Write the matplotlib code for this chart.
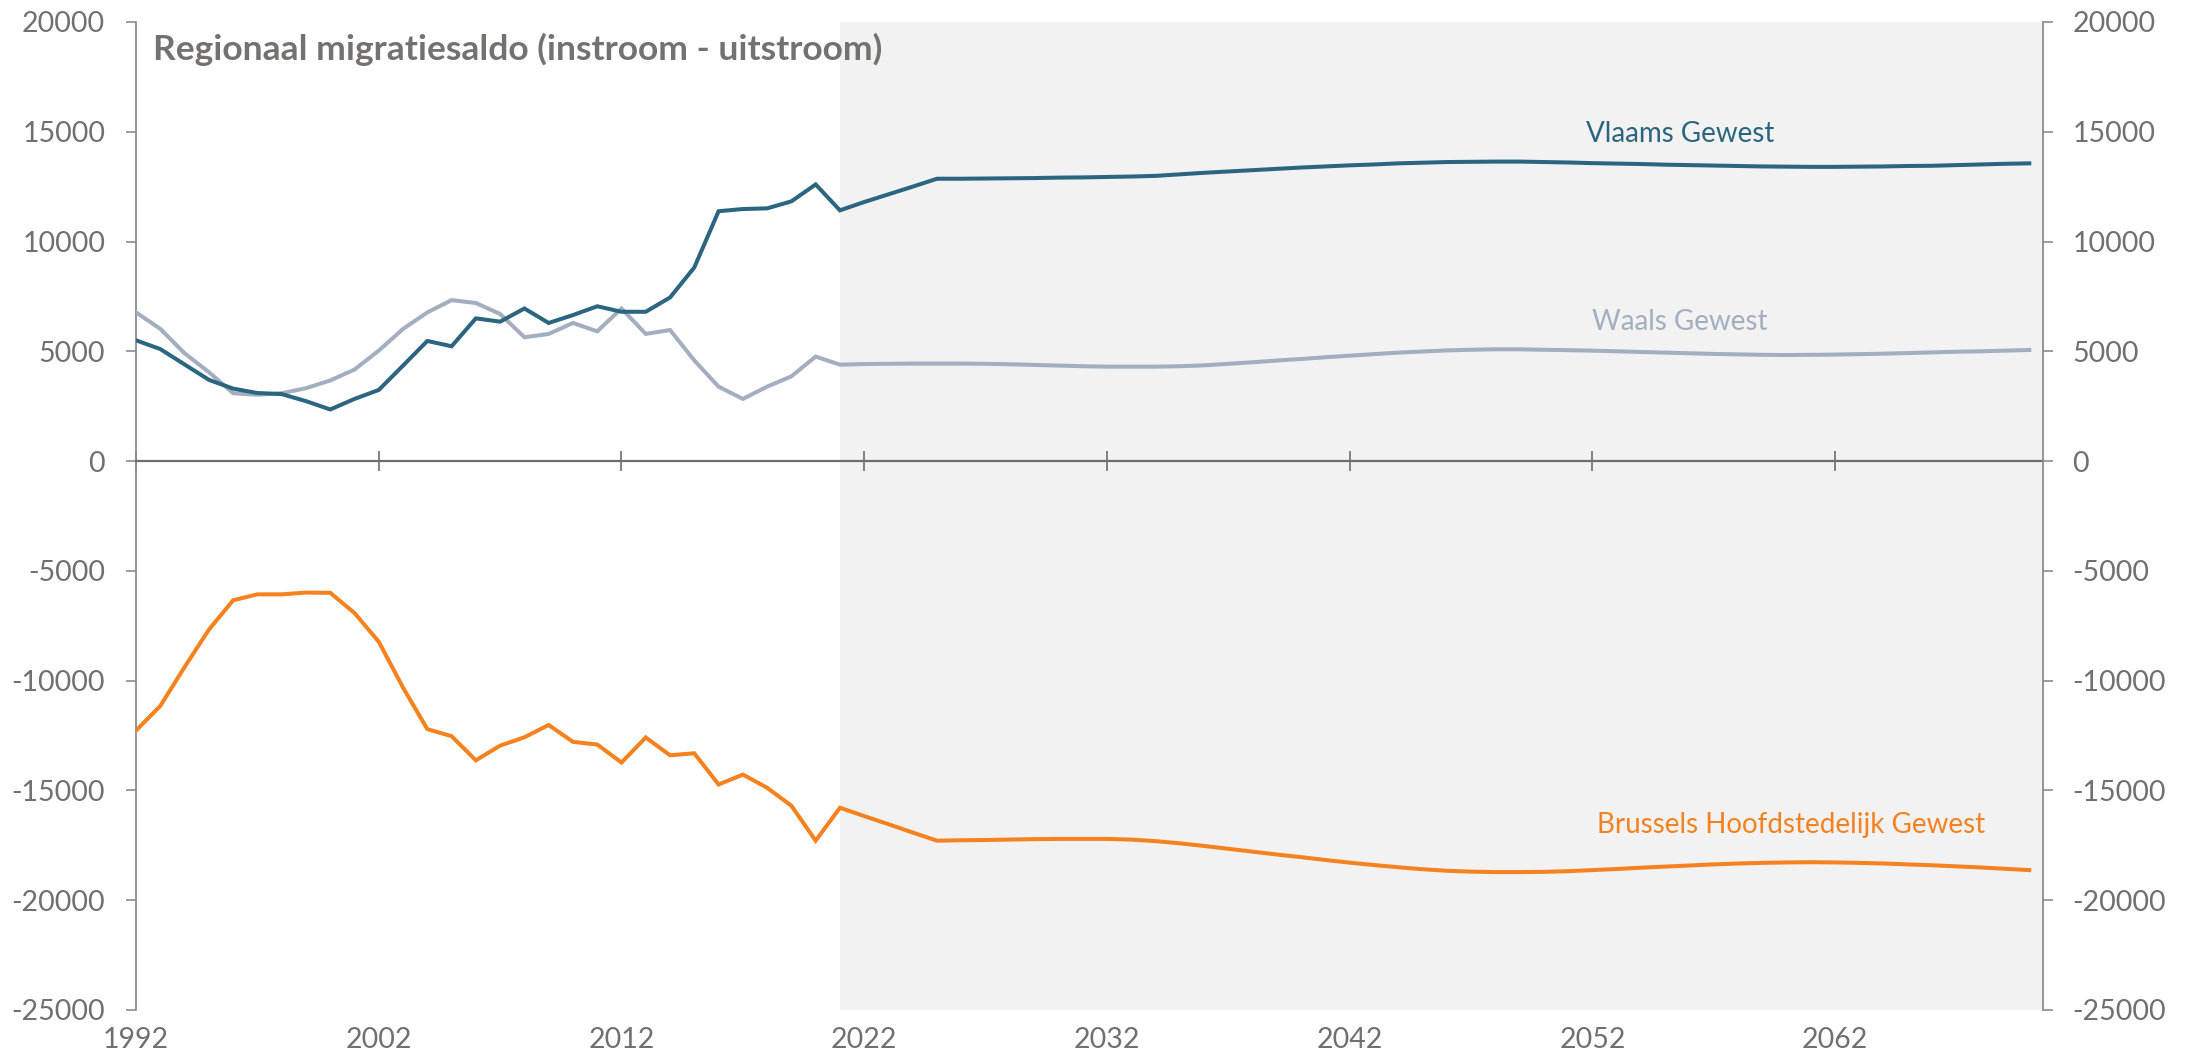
import matplotlib
matplotlib.use("Agg")
import matplotlib.pyplot as plt
import numpy as np

plt.rcParams['font.family'] = ['Lato', 'DejaVu Sans']

years = list(range(1992, 2071))

vlaams = [5500, 5100, 4400, 3700, 3300, 3100, 3050, 2730, 2350, 2830,
          3240, 4350, 5470, 5230, 6500, 6350, 6950, 6290, 6650, 7050,
          6800, 6800, 7450, 8820, 11380, 11480, 11510, 11830, 12600, 11420,
          11800, 12150, 12500, 12860, 12860, 12870, 12880, 12890, 12910, 12920,
          12940, 12960, 12990, 13060, 13130, 13190, 13250, 13310, 13370, 13420,
          13470, 13510, 13560, 13590, 13620, 13630, 13640, 13640, 13620, 13600,
          13570, 13550, 13530, 13500, 13480, 13460, 13440, 13420, 13410, 13400,
          13400, 13410, 13420, 13440, 13450, 13480, 13510, 13540, 13560]

waals = [6770, 6020, 4910, 4050, 3090, 3020, 3090, 3320, 3670, 4170,
         5030, 6020, 6770, 7330, 7200, 6700, 5640, 5790, 6290, 5910,
         6950, 5790, 5970, 4580, 3390, 2830, 3390, 3860, 4760, 4390,
         4420, 4430, 4440, 4440, 4440, 4430, 4410, 4380, 4350, 4320,
         4300, 4300, 4300, 4320, 4360, 4430, 4500, 4580, 4650, 4730,
         4800, 4870, 4940, 4990, 5040, 5070, 5090, 5090, 5070, 5050,
         5030, 5000, 4970, 4940, 4910, 4880, 4860, 4840, 4830, 4840,
         4850, 4870, 4890, 4920, 4950, 4980, 5000, 5030, 5060]

brussel = [-12270, -11150, -9380, -7680, -6340, -6070, -6070, -5990, -6000, -6920,
           -8230, -10320, -12210, -12530, -13630, -12960, -12580, -12020, -12790, -12910,
           -13730, -12590, -13400, -13310, -14730, -14280, -14880, -15700, -17290, -15790,
           -16170, -16540, -16920, -17290, -17270, -17260, -17240, -17220, -17210, -17210,
           -17210, -17240, -17310, -17410, -17530, -17660, -17790, -17920, -18040, -18170,
           -18290, -18400, -18500, -18590, -18660, -18700, -18720, -18720, -18710, -18680,
           -18630, -18580, -18520, -18470, -18420, -18370, -18330, -18300, -18280, -18270,
           -18280, -18300, -18330, -18370, -18410, -18460, -18510, -18570, -18630]

x_ticks = [1992, 2002, 2012, 2022, 2032, 2042, 2052, 2062]
y_ticks = [20000, 15000, 10000, 5000, 0, -5000, -10000, -15000, -20000, -25000]
projection_start = 2021

title = "Regionaal migratiesaldo (instroom - uitstroom)"
labels = ["Vlaams Gewest", "Waals Gewest", "Brussels Hoofdstedelijk Gewest"]

c_vl = '#2B6580'
c_wa = '#A3AEBE'
c_br = '#F5821F'
c_axis = '#8C8C8C'
c_zero = '#6E6E6E'
c_text = '#707070'

fig = plt.figure(figsize=(21.91, 10.56), dpi=100)
ax = fig.add_axes([0.0621, 0.0436, 0.8704, 0.9356])

xmax = 2070.57
ax.set_xlim(1992, xmax)
ax.set_ylim(-25000, 20000)

ax.axvspan(projection_start, xmax, color='#F2F2F2', zorder=0, lw=0)

ax.plot(years, waals, color=c_wa, lw=2.9, zorder=3, solid_joinstyle='miter')
ax.plot(years, vlaams, color=c_vl, lw=2.9, zorder=4, solid_joinstyle='miter')
ax.plot(years, brussel, color=c_br, lw=2.9, zorder=4, solid_joinstyle='miter')

# spines
ax.spines['top'].set_visible(False)
ax.spines['right'].set_visible(False)
ax.spines['left'].set_color(c_axis)
ax.spines['left'].set_linewidth(1.3)
ax.spines['bottom'].set_position(('data', 0))
ax.spines['bottom'].set_color(c_zero)
ax.spines['bottom'].set_linewidth(1.6)
ax.spines['bottom'].set_zorder(5)

ax.set_xticks(x_ticks)
ax.tick_params(axis='x', direction='inout', length=14.4, width=1.2, color=c_zero,
               labelbottom=False)
ax.set_yticks(y_ticks)
ax.set_yticklabels([str(v) for v in y_ticks])
ax.tick_params(axis='y', direction='out', length=7.2, width=1.2, color=c_axis,
               pad=15, labelsize=20.5, labelcolor=c_text)

# right axis
ax2 = ax.twinx()
ax2.set_ylim(-25000, 20000)
ax2.set_yticks(y_ticks)
ax2.set_yticklabels([str(v) for v in y_ticks])
ax2.tick_params(axis='y', direction='out', length=7.2, width=1.2, color=c_axis,
                pad=14, labelsize=20.5, labelcolor=c_text)
for s in ['top', 'left', 'bottom']:
    ax2.spines[s].set_visible(False)
ax2.spines['right'].set_color(c_axis)
ax2.spines['right'].set_linewidth(1.3)

# bottom labels
sec = ax.secondary_xaxis('bottom')
sec.set_xticks(x_ticks)
sec.set_xticklabels([str(v) for v in x_ticks])
sec.tick_params(axis='x', length=0, pad=12, labelsize=20.5, labelcolor=c_text)
sec.spines['bottom'].set_visible(False)

# title
ax.text(0.0089, 0.9615, title, transform=ax.transAxes, ha='left', va='baseline',
        fontsize=25.5, fontweight='bold', color='#767171', zorder=6)

# series labels
ax.text(2055.6, 14534, labels[0], ha='center', va='baseline', fontsize=20, color=c_vl, zorder=6)
ax.text(2055.6, 5972, labels[1], ha='center', va='baseline', fontsize=20, color=c_wa, zorder=6)
ax.text(2060.2, -16938, labels[2], ha='center', va='baseline', fontsize=20, color=c_br, zorder=6)

fig.savefig('out.png', dpi=100)
